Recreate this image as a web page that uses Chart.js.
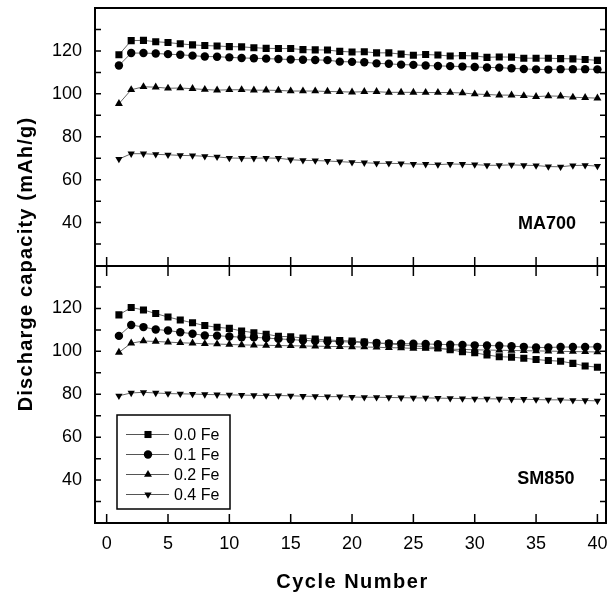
<!DOCTYPE html>
<html>
<head>
<meta charset="utf-8">
<script src="https://cdn.jsdelivr.net/npm/chart.js@4.4.1/dist/chart.umd.min.js"></script>
<style>
  html, body { margin: 0; padding: 0; background: #fff; }
</style>
</head>
<body>
<canvas id="canvas" width="616" height="594"></canvas>
<script>
const canvas = document.getElementById('canvas');
const ctx = canvas.getContext('2d');

const FONT = "'Liberation Sans', Arial, Helvetica, sans-serif";

const cycles = [1, 2, 3, 4, 5, 6, 7, 8, 9, 10, 11, 12, 13, 14, 15, 16, 17, 18, 19, 20,
  21, 22, 23, 24, 25, 26, 27, 28, 29, 30, 31, 32, 33, 34, 35, 36, 37, 38, 39, 40];

const seriesNames = ['0.0 Fe', '0.1 Fe', '0.2 Fe', '0.4 Fe'];
const panelNames = ['MA700', 'SM850'];
const xTitle = 'Cycle Number';
const yTitle = 'Discharge capacity (mAh/g)';
const yTickLabels = [40, 60, 80, 100, 120];

// MA700 panel (top)
const ma00 = [118.2, 124.8, 124.9, 124.3, 123.9, 123.3, 122.8, 122.5, 122.3, 122.0,
  121.9, 121.5, 121.2, 121.1, 121.1, 120.6, 120.5, 120.4, 119.8, 119.5,
  119.6, 119.1, 119.1, 118.5, 118.0, 118.3, 118.1, 117.6, 117.8, 117.7,
  117.0, 117.2, 117.1, 116.6, 116.6, 116.6, 116.4, 116.3, 116.0, 115.6];
const ma01 = [113.2, 119.0, 119.0, 118.8, 118.5, 118.2, 117.8, 117.4, 117.3, 117.0,
  116.7, 116.6, 116.4, 116.2, 116.0, 115.9, 115.8, 115.7, 115.0, 114.9,
  114.7, 114.2, 114.0, 113.6, 113.5, 113.2, 113.0, 112.9, 112.7, 112.5,
  112.3, 112.2, 111.9, 111.6, 111.4, 111.3, 111.5, 111.5, 111.5, 111.4];
const ma02 = [95.4, 101.9, 103.3, 103.1, 102.6, 102.7, 102.4, 102.0, 101.7, 101.9,
  101.9, 101.7, 101.7, 101.6, 101.3, 101.3, 101.3, 101.1, 101.0, 100.8,
  101.0, 101.0, 100.7, 100.7, 100.7, 100.6, 100.6, 100.6, 100.4, 99.9,
  99.7, 99.4, 99.4, 99.1, 98.7, 99.0, 98.9, 98.4, 98.2, 98.0];
const ma04 = [69.6, 72.1, 72.1, 71.8, 71.6, 71.3, 71.2, 70.9, 70.6, 70.1,
  70.0, 70.0, 70.1, 70.0, 69.3, 69.0, 68.9, 68.7, 68.4, 68.1,
  67.9, 67.6, 67.6, 67.5, 67.3, 67.2, 67.0, 67.3, 67.2, 67.0,
  66.7, 66.7, 66.9, 66.7, 66.6, 66.1, 66.0, 66.6, 66.7, 66.3];

// SM850 panel (bottom)
const sm00 = [117.0, 120.4, 119.3, 117.6, 116.0, 114.6, 113.3, 112.0, 111.2, 110.7,
  109.5, 108.7, 108.0, 107.0, 106.8, 106.2, 105.7, 105.3, 105.0, 104.8,
  104.3, 103.8, 103.5, 103.0, 102.5, 102.2, 101.6, 100.7, 99.8, 99.3,
  98.3, 97.5, 97.3, 96.8, 96.2, 95.7, 95.4, 94.4, 93.2, 92.6];
const sm01 = [107.2, 112.3, 111.3, 110.2, 109.7, 108.9, 108.2, 107.4, 107.3, 106.9,
  106.6, 106.5, 106.2, 105.8, 105.5, 105.1, 104.8, 104.7, 104.5, 104.3,
  104.1, 103.9, 103.7, 103.6, 103.5, 103.4, 103.3, 103.1, 103.0, 102.8,
  102.7, 102.6, 102.4, 102.1, 101.8, 101.8, 102.0, 102.0, 102.0, 102.1];
const sm02 = [99.5, 103.8, 104.8, 104.6, 104.3, 104.0, 103.8, 103.5, 103.4, 103.2,
  103.0, 102.9, 102.8, 102.7, 102.6, 102.5, 102.4, 102.3, 102.2, 102.1,
  102.0, 101.9, 101.7, 101.6, 101.4, 101.3, 101.2, 101.0, 100.9, 100.7,
  100.6, 100.5, 100.4, 100.3, 100.2, 100.1, 100.0, 99.9, 99.8, 99.7];
const sm04 = [79.3, 80.6, 80.9, 80.6, 80.3, 80.2, 80.1, 79.9, 79.8, 79.7,
  79.6, 79.5, 79.4, 79.4, 79.3, 79.1, 79.0, 78.9, 78.9, 78.7,
  78.6, 78.6, 78.5, 78.4, 78.3, 78.3, 78.2, 78.1, 78.0, 77.9,
  77.9, 77.8, 77.7, 77.7, 77.5, 77.4, 77.4, 77.2, 77.1, 76.9];

// marker look per series
const markers = [
  { pointStyle: 'rect', radius: 5, rotation: 0 },
  { pointStyle: 'circle', radius: 4.2, rotation: 0 },
  { pointStyle: 'triangle', radius: 4.6, rotation: 0 },
  { pointStyle: 'triangle', radius: 4.2, rotation: 180 },
];

const toPoints = (vals) => cycles.map((c, i) => ({ x: c, y: vals[i] }));

const makeSet = (label, vals, k, axis) => ({
  label: label,
  data: toPoints(vals),
  yAxisID: axis,
  borderColor: '#666',
  borderWidth: 1,
  backgroundColor: '#000',
  pointBackgroundColor: '#000',
  pointBorderColor: '#000',
  pointBorderWidth: 0,
  pointStyle: markers[k].pointStyle,
  pointRadius: markers[k].radius,
  pointRotation: markers[k].rotation,
  tension: 0,
  fill: false,
});

const datasets = [
  makeSet(seriesNames[0], ma00, 0, 'yMA'),
  makeSet(seriesNames[1], ma01, 1, 'yMA'),
  makeSet(seriesNames[2], ma02, 2, 'yMA'),
  makeSet(seriesNames[3], ma04, 3, 'yMA'),
  makeSet(seriesNames[0], sm00, 0, 'ySM'),
  makeSet(seriesNames[1], sm01, 1, 'ySM'),
  makeSet(seriesNames[2], sm02, 2, 'ySM'),
  makeSet(seriesNames[3], sm04, 3, 'ySM'),
];

const yAxis = () => ({
  type: 'linear',
  position: 'left',
  stack: 'panels',
  stackWeight: 1,
  min: 20,
  max: 140,
  grid: { display: false, drawTicks: false },
  border: { display: false },
  ticks: {
    stepSize: 10,
    autoSkip: false,
    maxTicksLimit: 30,
    padding: 13,
    color: '#000',
    font: { size: 18, family: FONT },
    callback: (v) => (yTickLabels.includes(v) ? String(v) : ''),
  },
  afterFit: (scale) => {
    scale.width = 95;
    scale.paddingTop = 0;
    scale.paddingBottom = 0;
  },
});

// frame, inward ticks, titles, panel names and legend
const decorPlugin = {
  id: 'decor',
  afterDatasetsDraw(chart) {
    const { ctx, chartArea: a, scales } = chart;
    const xs = scales.x;
    const yTop = scales.yMA;
    const yBot = scales.ySM;
    const mid = Math.round(yTop.bottom);

    ctx.save();
    ctx.strokeStyle = '#000';
    ctx.lineWidth = 2;
    ctx.strokeRect(a.left, a.top, a.right - a.left, a.bottom - a.top);
    ctx.beginPath();
    ctx.moveTo(a.left, mid);
    ctx.lineTo(a.right, mid);
    ctx.stroke();

    ctx.lineWidth = 1.5;
    ctx.beginPath();
    [yTop, yBot].forEach((s) => {
      s.ticks.forEach((t) => {
        if (t.value <= s.min || t.value >= s.max) return;
        const py = s.getPixelForValue(t.value);
        ctx.moveTo(a.left, py);
        ctx.lineTo(a.left + 6, py);
        ctx.moveTo(a.right, py);
        ctx.lineTo(a.right - 6, py);
      });
    });
    xs.ticks.forEach((t) => {
      const px = xs.getPixelForValue(t.value);
      ctx.moveTo(px, a.bottom);
      ctx.lineTo(px, a.bottom - 9);
      ctx.moveTo(px, mid - 9);
      ctx.lineTo(px, mid + 10);
    });
    ctx.stroke();

    // axis titles
    ctx.fillStyle = '#000';
    ctx.font = `bold 20px ${FONT}`;
    ctx.letterSpacing = '1.5px';
    ctx.textAlign = 'center';
    ctx.textBaseline = 'alphabetic';
    ctx.fillText(xTitle, (a.left + a.right) / 2 + 2, 588);
    ctx.save();
    ctx.translate(32, 264);
    ctx.rotate(-Math.PI / 2);
    ctx.letterSpacing = '1.2px';
    ctx.fillText(yTitle, 0, 0);
    ctx.restore();

    // panel names
    ctx.letterSpacing = '0px';
    ctx.font = `bold 18px ${FONT}`;
    ctx.fillText(panelNames[0], xs.getPixelForValue(35.9), yTop.getPixelForValue(40) + 6.5);
    ctx.fillText(panelNames[1], xs.getPixelForValue(35.8), yBot.getPixelForValue(40) + 3.5);

    // legend box
    const lx = a.left + 22;
    const ly = 415;
    ctx.lineWidth = 1.5;
    ctx.strokeRect(lx, ly, 113, 94);
    ctx.font = `16px ${FONT}`;
    ctx.textAlign = 'left';
    ctx.textBaseline = 'middle';
    seriesNames.forEach((name, k) => {
      const ry = ly + 19.5 + k * 20;
      ctx.strokeStyle = '#555';
      ctx.lineWidth = 1.2;
      ctx.beginPath();
      ctx.moveTo(lx + 9, ry);
      ctx.lineTo(lx + 52, ry);
      ctx.stroke();
      ctx.fillStyle = '#000';
      Chart.helpers.drawPoint(ctx, {
        pointStyle: markers[k].pointStyle,
        radius: markers[k].radius,
        rotation: markers[k].rotation,
        borderWidth: 0,
      }, lx + 31, ry);
      ctx.fillStyle = '#000';
      ctx.fillText(name, lx + 57, ry + 1);
    });
    ctx.restore();
  },
};

const chart = new Chart(ctx, {
  type: 'line',
  data: { datasets: datasets },
  options: {
    responsive: false,
    animation: false,
    devicePixelRatio: 1,
    layout: { padding: { top: 8, right: 10, left: 0, bottom: 0 } },
    plugins: {
      legend: { display: false },
      tooltip: { enabled: false },
    },
    scales: {
      x: {
        type: 'linear',
        position: 'bottom',
        min: -0.95,
        max: 40.7,
        grid: { display: false, drawTicks: false },
        border: { display: false },
        ticks: {
          stepSize: 5,
          includeBounds: false,
          padding: 10,
          maxRotation: 0,
          color: '#000',
          font: { size: 18, family: FONT },
          callback: (v) => (v >= 0 && v % 5 === 0 ? String(v) : ''),
        },
        afterFit: (scale) => {
          scale.height = 71;
          scale.paddingLeft = 0;
          scale.paddingRight = 0;
        },
      },
      ySM: yAxis(),
      yMA: yAxis(),
    },
  },
  plugins: [decorPlugin],
});
</script>
</body>
</html>
